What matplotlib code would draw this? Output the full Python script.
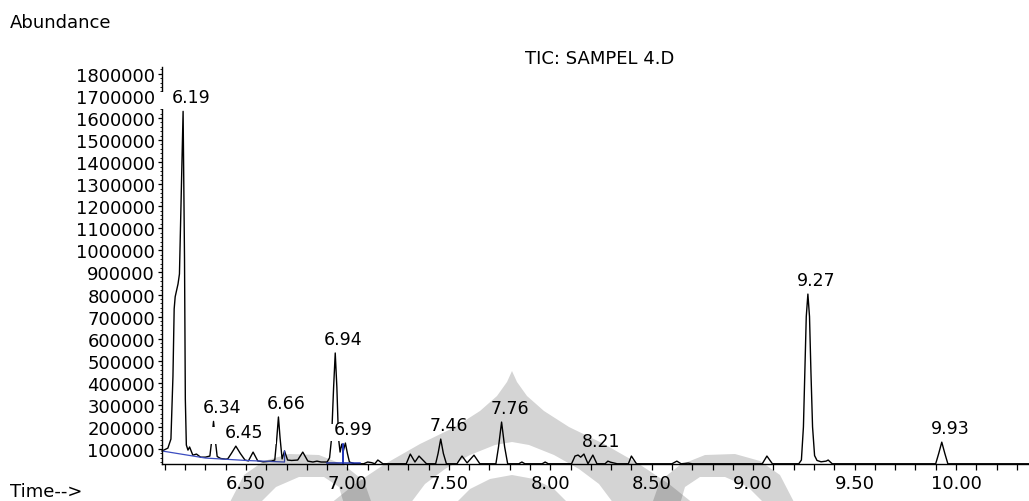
import numpy as np
import matplotlib
matplotlib.use("Agg")
import matplotlib.pyplot as plt
from matplotlib.patches import Rectangle, Polygon
from matplotlib.transforms import Affine2D, ScaledTranslation
from matplotlib.ticker import MultipleLocator, FixedLocator, FuncFormatter

# ---- chromatogram trace (retention time in min, abundance) ----
trace_time = [
    6.086, 6.115, 6.130, 6.140, 6.146, 6.151, 6.165, 6.172, 6.190, 6.197,
    6.201, 6.206, 6.214, 6.222, 6.238, 6.256, 6.276, 6.300, 6.322, 6.330,
    6.340, 6.350, 6.358, 6.375, 6.400, 6.410, 6.428, 6.450, 6.472, 6.495,
    6.512, 6.535, 6.558, 6.585, 6.625, 6.642, 6.652, 6.660, 6.668, 6.678,
    6.690, 6.705, 6.725, 6.755, 6.780, 6.805, 6.830, 6.850, 6.870, 6.900,
    6.912, 6.922, 6.932, 6.940, 6.948, 6.956, 6.964, 6.972, 6.980, 6.990,
    7.000, 7.010, 7.035, 7.080, 7.100, 7.120, 7.135, 7.150, 7.175, 7.290,
    7.310, 7.333, 7.353, 7.390, 7.435, 7.447, 7.460, 7.473, 7.488, 7.540,
    7.565, 7.590, 7.624, 7.653, 7.732, 7.745, 7.760, 7.775, 7.790, 7.845,
    7.860, 7.875, 7.960, 7.975, 7.990, 8.105, 8.122, 8.137, 8.150, 8.166,
    8.186, 8.210, 8.230, 8.270, 8.284, 8.298, 8.330, 8.385, 8.400, 8.425,
    8.600, 8.624, 8.645, 8.680, 8.700, 9.045, 9.068, 9.095, 9.225, 9.238,
    9.248, 9.255, 9.262, 9.270, 9.278, 9.285, 9.293, 9.303, 9.315, 9.335,
    9.360, 9.370, 9.390, 9.900, 9.915, 9.930, 9.945, 9.960, 10.360,
]
trace_abund = [
    91000, 104000, 145000, 430000, 735000, 790000, 848000, 893000, 1630000, 960000,
    326000, 118000, 95000, 109000, 72000, 77000, 63000, 63000, 68000, 130000,
    225000, 130000, 66000, 57000, 54000, 55000, 80000, 113000, 80000, 50000,
    46000, 86000, 46000, 42000, 45000, 50000, 150000, 245000, 150000, 55000,
    91000, 50000, 48000, 50000, 86000, 45000, 41000, 45000, 41000, 41000,
    60000, 150000, 380000, 535000, 380000, 150000, 86000, 122000, 92000, 127000,
    80000, 41000, 33000, 33000, 41000, 38000, 33000, 50000, 33000, 33000,
    77000, 41000, 68000, 33000, 33000, 80000, 145000, 80000, 33000, 33000,
    68000, 37000, 72000, 33000, 33000, 110000, 222000, 110000, 33000, 33000,
    41000, 33000, 33000, 41000, 33000, 33000, 68000, 72500, 63000, 77000,
    33000, 72500, 33000, 33000, 45000, 40000, 33000, 33000, 68000, 33000,
    33000, 45000, 33000, 36000, 33000, 33000, 68000, 33000, 33000, 50000,
    200000, 450000, 700000, 802000, 700000, 450000, 200000, 70000, 48000, 42000,
    45000, 50000, 33000, 33000, 80000, 131000, 80000, 33000, 33000,
]

# integrated peaks that carry a retention-time label
peak_times = [6.19, 6.34, 6.45, 6.66, 6.94, 6.99, 7.46, 7.76, 8.21, 9.27, 9.93]

# integration baselines
base1_time = [6.086, 6.300, 6.500, 6.690, 6.690]
base1_abund = [91000, 59000, 48000, 41000, 91000]
base2_time = [6.900, 6.978, 6.978, 6.978, 7.060]
base2_abund = [36000, 36000, 122000, 36000, 36000]

y_ticks = list(range(100000, 1800001, 100000))
x_ticks = [6.50, 7.00, 7.50, 8.00, 8.50, 9.00, 9.50, 10.00]

W, H = 1029, 502
fig = plt.figure(figsize=(W / 100, H / 100), dpi=100)
fig.patch.set_facecolor("white")
ax = fig.add_axes([162 / W, 1 - 465 / H, (W - 162) / W, (465 - 68) / H])
ax.set_facecolor("none")

ax.set_xlim(6.086, 10.36)
ax.set_ylim(32000, 1831000)

ax.plot(trace_time, trace_abund, color="black", lw=1.0, zorder=2, clip_on=False)
ax.plot(base1_time, base1_abund, color="#3b4cc0", lw=0.9, zorder=2.1)
ax.plot(base2_time, base2_abund, color="#2337b8", lw=1.1, zorder=2.1)

for side in ("top", "right"):
    ax.spines[side].set_visible(False)
for side in ("left", "bottom"):
    ax.spines[side].set_linewidth(1.0)
    ax.spines[side].set_color("black")

ax.xaxis.set_major_locator(FixedLocator(x_ticks))
ax.xaxis.set_minor_locator(MultipleLocator(0.1))
ax.xaxis.set_major_formatter(FuncFormatter(lambda v, p: f"{v:.2f}"))
ax.yaxis.set_major_locator(FixedLocator(y_ticks))
ax.yaxis.set_minor_locator(MultipleLocator(20000))
ax.yaxis.set_major_formatter(FuncFormatter(lambda v, p: f"{int(round(v))}"))
ax.tick_params(axis="x", which="both", direction="out", length=4.5, width=0.9,
               pad=3, labelsize=13, colors="black")
ax.tick_params(axis="y", which="major", direction="out", length=3, width=0.9,
               pad=2, labelsize=13)
ax.tick_params(axis="y", which="minor", direction="out", length=1.5, width=0.6)
for lab in ax.get_xticklabels() + ax.get_yticklabels():
    lab.set_family("DejaVu Sans")

# retention-time labels with white backing boxes
apex_abund = np.interp(peak_times, trace_time, trace_abund)
for i, (t, a) in enumerate(zip(peak_times, apex_abund)):
    tr = Affine2D() + ScaledTranslation(t, a, ax.transData)
    ax.add_patch(Rectangle((-26, 2), 66, 17, transform=tr, facecolor="white",
                           edgecolor="none", clip_on=False, zorder=3 + 0.01 * i))
    ax.annotate(f"{t:.2f}", xy=(t, a), xytext=(8, 5), textcoords="offset pixels",
                ha="center", va="bottom", fontsize=12.5, family="DejaVu Sans",
                color="black", zorder=3.005 + 0.01 * i, annotation_clip=False)

fig.text(10 / W, 1 - 28 / H, "Abundance", fontsize=13, family="DejaVu Sans",
         ha="left", va="baseline")
fig.text(10 / W, 1 - 497 / H, "Time-->", fontsize=13, family="DejaVu Sans",
         ha="left", va="baseline")
fig.text(600 / W, 1 - 64 / H, "TIC: SAMPEL 4.D", fontsize=13, family="DejaVu Sans",
         ha="center", va="baseline")


# faint emblem stamped over the lower part of the page
def mirror(left):
    return [(1024 - x, y) for x, y in reversed(left)]


stamp = Affine2D().scale(1, -1).translate(0, H)
outer_left = [(330, 505), (355, 485), (385, 465), (420, 445), (455, 428),
              (480, 412), (497, 397), (507, 383), (512, 372)]
inner_left = [(410, 505), (425, 485), (445, 470), (470, 456), (495, 446), (512, 443)]
dome = outer_left + mirror(outer_left)[1:] + list(reversed(inner_left + mirror(inner_left)[1:]))
core_left = [(455, 505), (470, 490), (490, 480), (512, 476)]
core = core_left + mirror(core_left)[1:]
wing_right = [(652, 505), (660, 482), (680, 466), (705, 456), (735, 455), (760, 462),
              (780, 476), (795, 505), (765, 505), (748, 488), (725, 478), (700, 478),
              (685, 488), (680, 505)]
wing_left = [(1024 - x, y) for x, y in wing_right]
for shape in (dome, core, wing_right, wing_left):
    fig.patches.append(Polygon(shape, closed=True, transform=stamp,
                               facecolor="black", edgecolor="none", alpha=0.17,
                               zorder=10))

fig.savefig("out.png", dpi=100, facecolor="white")
